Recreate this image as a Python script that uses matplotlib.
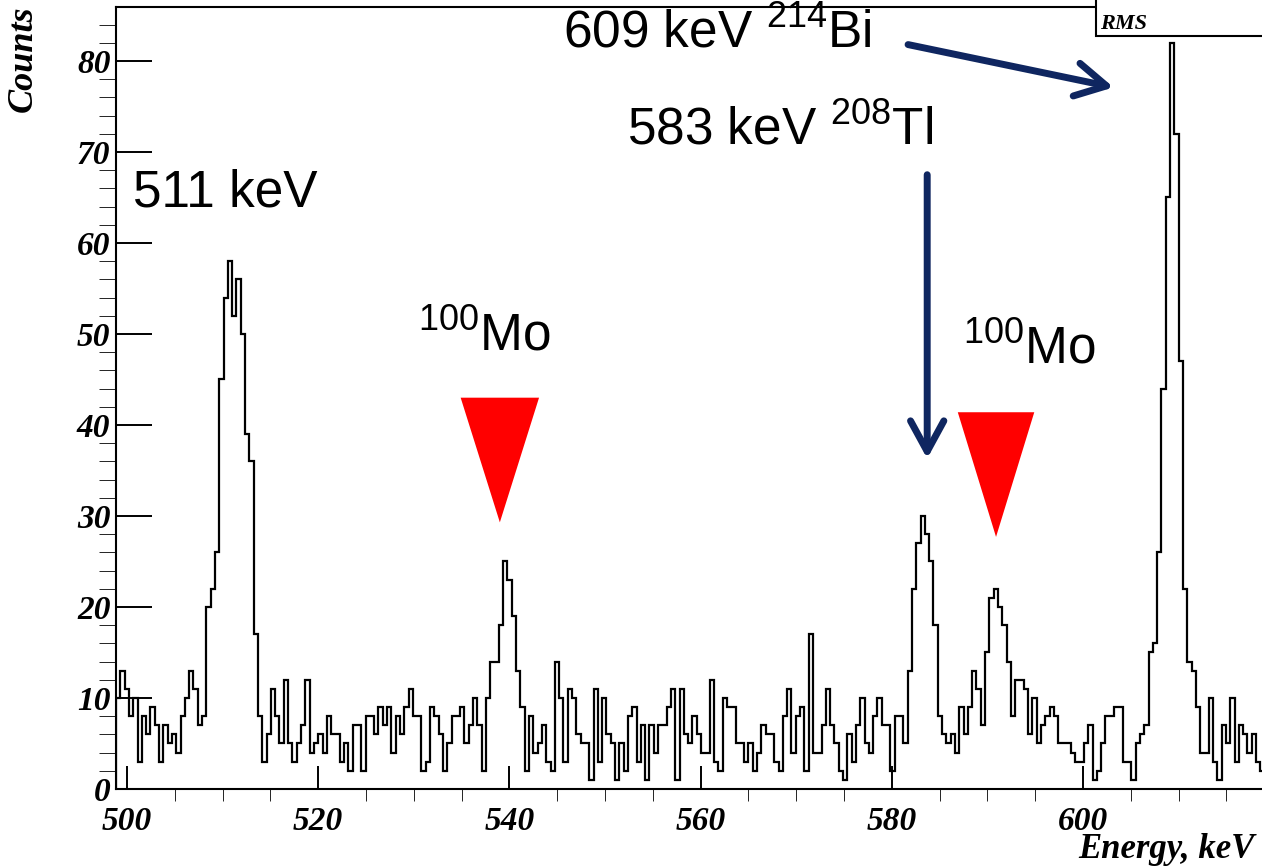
import numpy as np
import matplotlib
matplotlib.use("Agg")
import matplotlib.pyplot as plt
from matplotlib.patches import Polygon, Rectangle
from matplotlib.ticker import MultipleLocator

# Spectrum: counts per bin, bins of 0.45 keV starting at 498.85 keV
e_start = 498.85
bin_width = 0.45
counts = [
    10, 13, 11, 8, 10, 3, 8, 6, 9, 7, 3, 7, 5, 6, 4, 8, 10, 13, 11, 7, 8,
    20, 22, 26, 45, 54, 58, 52, 56, 50, 39, 36,
    17, 8, 3, 6, 11, 8, 5, 12, 5, 3, 5, 7, 12, 4, 5, 6,
    4, 8, 6, 6, 3, 5, 2, 7, 7, 2, 8, 8, 6, 9, 7, 9, 4, 8, 6,
    9, 11, 8, 8, 2, 3, 9, 8, 6, 2, 5, 8, 8, 9, 5, 7, 10, 7, 2,
    10, 14, 14, 18, 25, 23, 19, 13, 9, 2, 8, 4, 5, 7, 3,
    2, 14, 10, 3, 11, 10, 6, 5, 5, 1, 11, 3, 10, 6, 5, 1,
    5, 2, 8, 9, 3, 7, 1, 7, 4, 7, 7, 9, 11, 1, 11, 6, 5, 8, 6, 4, 4, 12, 3, 2,
    10, 9, 9, 5, 5, 3, 5, 2, 4, 7, 6, 6, 3, 2, 8, 11, 4, 8, 9, 2, 17, 4, 4,
    7, 11, 7, 5, 2, 1, 6, 3, 7, 10, 5, 4, 8, 10, 7, 7, 2, 8, 8, 5,
    13, 22, 27, 30, 28, 25, 18, 8,
    6, 5, 6, 4, 9, 6, 9, 13, 11, 7, 15, 21, 22, 20, 18, 14, 8, 12, 12, 11, 6, 10, 5, 7, 8, 9, 8,
    5, 5, 5, 4, 3, 3, 5, 7, 1, 2, 5, 8, 8, 9, 9, 3, 3, 1, 5, 6, 7, 15, 16, 26,
    44, 65, 82, 72, 47, 22, 14, 13, 9, 4, 4, 10, 3, 1, 7, 5, 10, 3, 7, 6, 4, 6, 3, 2, 5,
]
edges = e_start + bin_width * np.arange(len(counts) + 1)

x_ticks = [500, 520, 540, 560, 580, 600]
y_ticks = [0, 10, 20, 30, 40, 50, 60, 70, 80]

# text labels (x, y in keV / counts)
labels = [
    ("511 keV", 500.6, 64.0),
    (r"609 keV $^{\mathrm{214}}$Bi", 545.6, 81.5),
    (r"583 keV $^{\mathrm{208}}$Tl", 552.3, 70.8),
    (r"$^{\mathrm{100}}$Mo", 530.4, 48.2),
    (r"$^{\mathrm{100}}$Mo", 587.4, 46.8),
]
# red markers: tip x, tip y, half width, top y
markers = [(539.0, 29.3, 4.1, 43.0), (590.9, 27.7, 4.0, 41.4)]
# arrows: start -> end
arrows = [((581.7, 81.8), (603.2, 77.1)), ((583.7, 67.5), (583.7, 36.3))]

navy = "#0f2660"
serif = dict(family="Liberation Serif", style="italic", weight="bold")

plt.rcParams["mathtext.fontset"] = "custom"
plt.rcParams["mathtext.rm"] = "Liberation Sans"

fig = plt.figure(figsize=(12.62, 8.67), dpi=100)
ax = fig.add_axes([116 / 1262, 1 - 789 / 867, 1 - 116 / 1262, (789 - 7) / 867])

ax.stairs(counts, edges, color="black", lw=1.6, baseline=0)

ax.set_xlim(498.85, 618.72)
ax.set_ylim(0, 85.93)
ax.set_xticks(x_ticks)
ax.set_yticks(y_ticks)
ax.xaxis.set_minor_locator(MultipleLocator(5))
ax.yaxis.set_minor_locator(MultipleLocator(2))
ax.tick_params(direction="in", width=1.4, labelsize=24, top=False, right=False)
ax.tick_params(axis="y", which="major", length=26, pad=4)
ax.tick_params(axis="y", which="minor", length=12.5)
ax.tick_params(axis="x", which="major", length=16.5, pad=12)
ax.tick_params(axis="x", which="minor", length=8.6)
plt.setp(ax.get_xticklabels() + ax.get_yticklabels(), **serif)
for s in ["left", "bottom", "top"]:
    ax.spines[s].set_linewidth(1.5)
ax.spines["right"].set_visible(False)

fig.text(23 / 1262, 1 - 6 / 867, "Counts", rotation=90, ha="center", va="top",
         fontsize=26, **serif)
fig.text(1255 / 1262, 1 - 858 / 867, "Energy, keV", ha="right", va="baseline",
         fontsize=25, **serif)

# stat box in the corner
box = Rectangle((1096 / 1262, 1 - 36 / 867), 0.2, 0.2, transform=fig.transFigure,
                facecolor="white", edgecolor="black", lw=1.5, zorder=10, clip_on=False)
fig.add_artist(box)
fig.text(1100 / 1262, 1 - 29 / 867, "RMS", fontsize=16, zorder=11, **serif)

for txt, x, y in labels:
    ax.text(x, y, txt, fontsize=37, family="Liberation Sans", va="baseline", ha="left")

for tx, ty, hw, top in markers:
    ax.add_patch(Polygon([(tx - hw, top), (tx + hw, top), (tx, ty)], closed=True,
                         facecolor="red", edgecolor="none", zorder=5))

for start, end in arrows:
    ax.annotate("", xy=end, xytext=start,
                arrowprops=dict(arrowstyle="->,head_length=2.2,head_width=1.2",
                                color=navy, lw=5, shrinkA=0, shrinkB=0,
                                capstyle="round", joinstyle="round"))

fig.savefig("out.png", dpi=100)
